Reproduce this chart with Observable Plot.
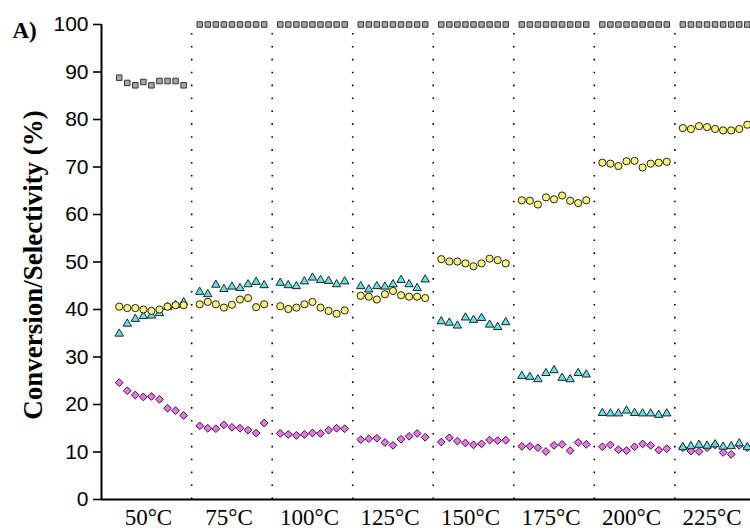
<!DOCTYPE html>
<html>
<head>
<meta charset="utf-8">
<script src="https://cdn.jsdelivr.net/npm/d3@7"></script>
<script src="https://cdn.jsdelivr.net/npm/@observablehq/plot@0.6"></script>
<style>
  html, body { margin: 0; padding: 0; background: #fff; }
  #chart svg { display: block; }
</style>
</head>
<body>
<div id="chart"></div>
<script>
const groups = ["50°C", "75°C", "100°C", "125°C", "150°C", "175°C", "200°C", "225°C"];
const yTicks = [0, 10, 20, 30, 40, 50, 60, 70, 80, 90, 100];

// gray squares
const squares = [
  [88.8, 87.7, 87.2, 87.9, 87.2, 88.1, 88.1, 88.1, 87.2],
  [100, 100, 100, 100, 100, 100, 100, 100, 100],
  [100, 100, 100, 100, 100, 100, 100, 100, 100],
  [100, 100, 100, 100, 100, 100, 100, 100, 100],
  [100, 100, 100, 100, 100, 100, 100, 100, 100],
  [100, 100, 100, 100, 100, 100, 100, 100, 100],
  [100, 100, 100, 100, 100, 100, 100, 100, 100],
  [100, 100, 100, 100, 100, 100, 100, 100, 100]
];
// yellow circles
const circles = [
  [40.6, 40.3, 40.3, 40.0, 39.7, 40.0, 40.6, 40.9, 40.9],
  [41.1, 41.6, 41.1, 40.4, 41.0, 42.1, 42.4, 40.5, 41.1],
  [40.7, 40.1, 40.4, 41.1, 41.6, 40.4, 39.7, 39.1, 39.8],
  [42.9, 42.7, 42.1, 43.2, 43.9, 43.0, 42.7, 42.7, 42.4],
  [50.6, 50.1, 50.1, 49.7, 49.1, 49.7, 50.7, 50.4, 49.7],
  [63.0, 62.9, 62.1, 63.6, 63.2, 64.0, 62.9, 62.4, 63.0],
  [70.9, 70.7, 70.2, 71.2, 71.3, 69.9, 70.7, 70.9, 71.1],
  [78.2, 78.0, 78.6, 78.4, 78.0, 77.7, 77.7, 78.0, 78.9]
];
// cyan triangles
const triangles = [
  [34.9, 37.0, 38.0, 38.6, 38.7, 39.2, 40.5, 40.9, 41.5],
  [43.7, 43.2, 45.2, 44.3, 44.8, 44.5, 45.3, 45.8, 45.1],
  [45.6, 45.1, 44.9, 45.9, 46.7, 46.2, 46.0, 45.3, 45.9],
  [44.9, 44.2, 44.9, 44.8, 45.3, 46.2, 45.3, 44.5, 46.3],
  [37.5, 37.2, 36.6, 38.3, 37.8, 38.2, 36.8, 36.3, 37.3],
  [26.0, 25.8, 25.3, 26.6, 27.2, 25.6, 25.3, 26.6, 26.3],
  [18.2, 18.1, 18.1, 18.7, 18.2, 18.1, 18.1, 17.8, 18.1],
  [11.0, 11.2, 11.5, 11.3, 11.6, 11.1, 11.2, 11.8, 11.0]
];
// magenta diamonds
const diamonds = [
  [24.6, 22.9, 22.0, 21.6, 21.7, 21.1, 19.2, 18.7, 17.7],
  [15.5, 15.0, 14.9, 15.7, 15.2, 15.0, 14.6, 14.0, 16.1],
  [13.9, 13.7, 13.5, 13.7, 14.0, 13.9, 14.6, 15.0, 14.9],
  [12.6, 12.8, 12.9, 12.0, 11.4, 12.7, 13.3, 13.9, 13.1],
  [12.1, 13.0, 12.3, 11.9, 11.5, 11.7, 12.5, 12.4, 12.5],
  [11.2, 11.2, 10.9, 10.1, 11.4, 11.6, 10.3, 12.0, 11.6],
  [11.1, 11.5, 10.5, 10.3, 11.1, 11.7, 11.4, 10.4, 10.7],
  [10.9, 10.2, 10.1, 10.9, 11.5, 9.9, 9.5, 11.4, 10.9]
];

function rows(series) {
  const out = [];
  series.forEach((vals, g) => vals.forEach((v, i) => out.push({x: g * 10 + 1 + i, y: v})));
  return out;
}
const separators = groups.slice(1).map((_, g) => (g + 1) * 10);
const centers = groups.map((_, g) => g * 10 + 5);
const xMin = -1.2, xMax = 79.4;
const serif = "Liberation Serif, Times New Roman, serif";

const chart = Plot.plot({
  width: 750,
  height: 530,
  marginLeft: 101,
  marginRight: 0,
  marginTop: 24,
  marginBottom: 31,
  x: {domain: [xMin, xMax], axis: null},
  y: {domain: [0, 100], axis: null},
  marks: [
    Plot.ruleX(separators, {y1: 0, y2: 100, stroke: "#000", strokeWidth: 1.6, strokeDasharray: "1.6,11.3"}),
    Plot.axisY({ticks: yTicks, tickSize: 8, tickPadding: 5, fontSize: 21, fontFamily: "Liberation Sans, Arial, sans-serif", stroke: "#000", strokeWidth: 1.6, color: "#000", label: null}),
    Plot.axisX({ticks: centers, tickFormat: (d) => groups[Math.round((d - 5) / 10)], tickSize: 0, tickPadding: 9, dx: -3, fontSize: 23, fontFamily: serif, color: "#000", label: null}),
    Plot.ruleX([xMin], {y1: 0, y2: 100, stroke: "#000", strokeWidth: 2}),
    Plot.ruleY([0], {x1: xMin, x2: xMax, stroke: "#000", strokeWidth: 2}),
    Plot.dot(rows(squares), {x: "x", y: "y", symbol: "square", r: 3.1, fill: "#a8a8a8", stroke: "#333", strokeWidth: 1}),
    Plot.dot(rows(diamonds), {x: "x", y: "y", symbol: "diamond2", r: 3.5, fill: "#f070f0", stroke: "#222", strokeWidth: 1}),
    Plot.dot(rows(triangles), {x: "x", y: "y", symbol: "triangle", r: 3.1, fill: "#5fe3e6", stroke: "#222", strokeWidth: 1}),
    Plot.dot(rows(circles), {x: "x", y: "y", symbol: "circle", r: 3.6, fill: "#fbf57a", stroke: "#222", strokeWidth: 1}),
    Plot.text(["Conversion/Selectivity (%)"], {frameAnchor: "left", textAnchor: "middle", lineAnchor: "middle", dx: -68, dy: 3, rotate: -90, fontSize: 27, fontWeight: "bold", fontFamily: serif, fill: "#000"}),
    Plot.text(["A)"], {frameAnchor: "top-left", textAnchor: "start", lineAnchor: "middle", dx: -89, dy: 6, fontSize: 23, fontWeight: "bold", fontFamily: serif, fill: "#000"})
  ]
});
document.getElementById("chart").appendChild(chart);
</script>
</body>
</html>
